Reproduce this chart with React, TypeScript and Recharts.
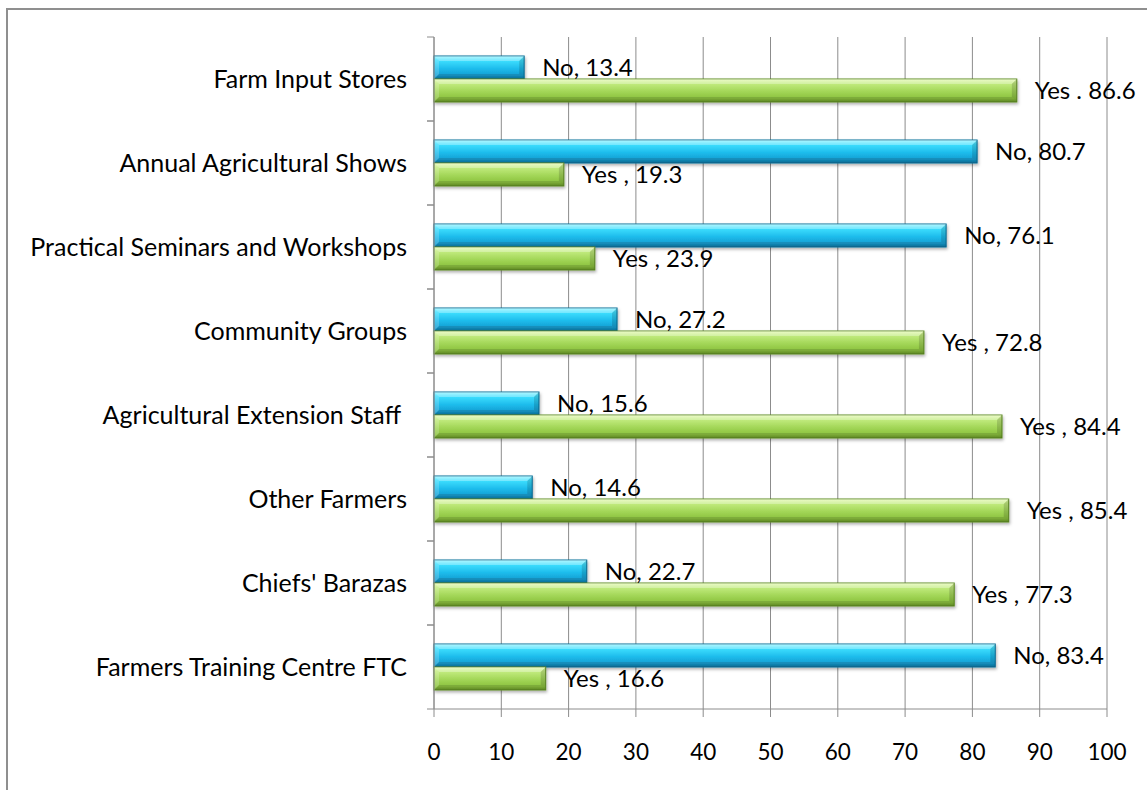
import React from "react";
import { BarChart, Bar, XAxis, YAxis, CartesianGrid, LabelList } from "recharts";

const CATEGORIES = [
  "Farm Input Stores",
  "Annual Agricultural Shows",
  "Practical Seminars and Workshops",
  "Community Groups",
  "Agricultural Extension Staff\u00A0",
  "Other Farmers",
  "Chiefs' Barazas",
  "Farmers Training Centre FTC",
];
const NO_VALUES = [13.4, 80.7, 76.1, 27.2, 15.6, 14.6, 22.7, 83.4];
const YES_VALUES = [86.6, 19.3, 23.9, 72.8, 84.4, 85.4, 77.3, 16.6];
const YES_SEPARATORS = [".", ",", ",", ",", ",", ",", ",", ","];
const X_TICKS = [0, 10, 20, 30, 40, 50, 60, 70, 80, 90, 100];

const data = CATEGORIES.map((name, i) => ({
  name,
  no: NO_VALUES[i],
  yes: YES_VALUES[i],
  noLabel: `No, ${NO_VALUES[i]}`,
  yesLabel: `Yes ${YES_SEPARATORS[i]} ${YES_VALUES[i]}`,
}));

const FONT = "Lato, 'Open Sans', sans-serif";
const AXIS_GRAY = "#8c8c8c";

function bevelBar(gradId: string, edge: string) {
  return (props: any) => {
    const { x, y, width, height } = props;
    if (!width || width <= 0) return null;
    const b = 5;
    return (
      <g filter="url(#barShadow)">
        <rect x={x} y={y} width={width} height={height} fill={`url(#${gradId})`} stroke={edge} strokeWidth={1} />
        <polygon
          points={`${x},${y} ${x + width},${y} ${x + width - b},${y + b} ${x + b},${y + b}`}
          fill="#ffffff"
          opacity={0.3}
        />
        <polygon
          points={`${x},${y + height} ${x + width},${y + height} ${x + width - b},${y + height - b} ${x + b},${y + height - b}`}
          fill="#000000"
          opacity={0.12}
        />
        <polygon
          points={`${x},${y} ${x + b},${y + b} ${x + b},${y + height - b} ${x},${y + height}`}
          fill="#ffffff"
          opacity={0.18}
        />
        <polygon
          points={`${x + width},${y} ${x + width - b},${y + b} ${x + width - b},${y + height - b} ${x + width},${y + height}`}
          fill="#000000"
          opacity={0.14}
        />
      </g>
    );
  };
}

function CategoryTick(props: any) {
  const { x, y, payload } = props;
  const half = payload && payload.offset ? payload.offset : 42;
  return (
    <g>
      <line x1={x - 7} x2={x} y1={y - half} y2={y - half} stroke={AXIS_GRAY} />
      <line x1={x - 7} x2={x} y1={y + half} y2={y + half} stroke={AXIS_GRAY} />
      <text
        x={x - 27}
        y={y}
        dy="0.36em"
        textAnchor="end"
        fill="#000"
        fontFamily={FONT}
        fontSize={25}
        style={{ whiteSpace: "pre" }}
      >
        {payload.value}
      </text>
    </g>
  );
}

export default function App() {
  return (
    <div
      style={{
        position: "absolute",
        left: 6,
        top: 8,
        width: 1141,
        height: 782,
        borderLeft: "2px solid #8f8f8f",
        borderTop: "2px solid #8f8f8f",
        boxSizing: "border-box",
        background: "#fff",
      }}
    >
      <BarChart
        width={1139}
        height={780}
        data={data}
        layout="vertical"
        margin={{ top: 27, right: 40, left: 0, bottom: 31 }}
        barSize={23}
        barGap={0}
      >
        <defs>
          <linearGradient id="gradNo" x1="0" y1="0" x2="0" y2="1">
            <stop offset="0%" stopColor="#8ff3ff" />
            <stop offset="18%" stopColor="#3fe0ff" />
            <stop offset="55%" stopColor="#1dbcec" />
            <stop offset="85%" stopColor="#159fd3" />
            <stop offset="100%" stopColor="#0c7aa8" />
          </linearGradient>
          <linearGradient id="gradYes" x1="0" y1="0" x2="0" y2="1">
            <stop offset="0%" stopColor="#e3f9b0" />
            <stop offset="18%" stopColor="#c3ec80" />
            <stop offset="55%" stopColor="#a2d657" />
            <stop offset="85%" stopColor="#8cc23f" />
            <stop offset="100%" stopColor="#6b9a2a" />
          </linearGradient>
          <filter id="barShadow" x="-5%" y="-30%" width="110%" height="170%">
            <feDropShadow dx="1" dy="2" stdDeviation="1.5" floodColor="#000" floodOpacity="0.3" />
          </filter>
        </defs>
        <CartesianGrid horizontal={false} stroke={AXIS_GRAY} />
        <XAxis
          type="number"
          domain={[0, 100]}
          ticks={X_TICKS}
          interval={0}
          height={50}
          tickSize={8}
          tickMargin={27}
          axisLine={{ stroke: AXIS_GRAY }}
          tickLine={{ stroke: AXIS_GRAY }}
          tick={{ fill: "#000", fontFamily: FONT, fontSize: 22.5 }}
        />
        <YAxis
          type="category"
          dataKey="name"
          width={426}
          interval={0}
          tickLine={false}
          tickSize={0}
          tickMargin={0}
          axisLine={{ stroke: AXIS_GRAY }}
          tick={<CategoryTick />}
        />
        <Bar dataKey="no" isAnimationActive={false} shape={bevelBar("gradNo", "#0b6e98")}>
          <LabelList
            dataKey="noLabel"
            position="right"
            offset={18}
            fill="#000"
            fontFamily={FONT}
            fontSize={24}
          />
        </Bar>
        <Bar dataKey="yes" isAnimationActive={false} shape={bevelBar("gradYes", "#5e8c22")}>
          <LabelList
            dataKey="yesLabel"
            position="right"
            offset={18}
            fill="#000"
            fontFamily={FONT}
            fontSize={24}
          />
        </Bar>
      </BarChart>
    </div>
  );
}
